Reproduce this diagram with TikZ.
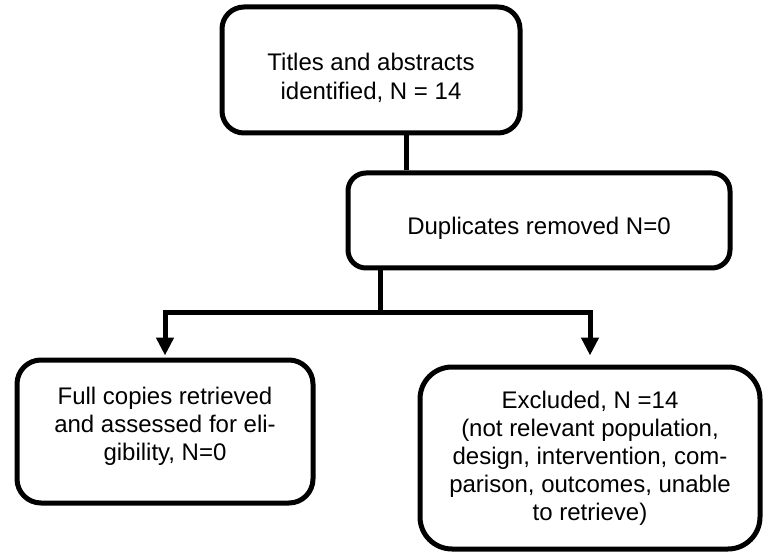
\documentclass[tikz,border=0pt]{standalone}
\usepackage{fontspec}
\setmainfont{Liberation Sans}
\usetikzlibrary{arrows.meta}
\begin{document}
\begin{tikzpicture}[x=1pt,y=-1pt,
  box/.style={draw=black, line width=5pt, rounded corners=#1, align=center, inner sep=0pt, font=\fontsize{24}{28}\selectfont},
  box/.default=20pt,
  conn/.style={line width=5pt},
  arr/.style={line width=5pt, -{Triangle[width=17pt,length=18pt]}}]
\useasboundingbox (0,0) rectangle (763,553);
\node[box=22pt, minimum width=298pt, minimum height=126pt, font=\fontsize{24}{29}\selectfont] (top) at (371,70) {\rule{0pt}{34pt}Titles and abstracts\\identified, N = 14};
\node[box=18pt, minimum width=382pt, minimum height=95pt, text height=32pt] (dup) at (539,220.5) {Duplicates removed N=0};
\node[box=24pt, minimum width=296pt, minimum height=143pt, text depth=16pt] (left) at (165,431.5) {Full copies retrieved\\and assessed for eli-\\gibility, N=0};
\node[box=32pt, minimum width=340pt, minimum height=182pt] (right) at (590,458) {Excluded, N =14\\(not relevant population,\\design, intervention, com-\\parison, outcomes, unable\\to retrieve)};
\coordinate (j) at (380,313);
\draw[conn] ([xshift=35pt]top.south) -- ([xshift=35pt]top.south |- dup.north);
\draw[conn] (dup.south -| j) -- (j);
\draw[arr] (j) -| ([yshift=2pt]left.north);
\draw[arr] (j) -| ([yshift=9pt]right.north);
\end{tikzpicture}
\end{document}
